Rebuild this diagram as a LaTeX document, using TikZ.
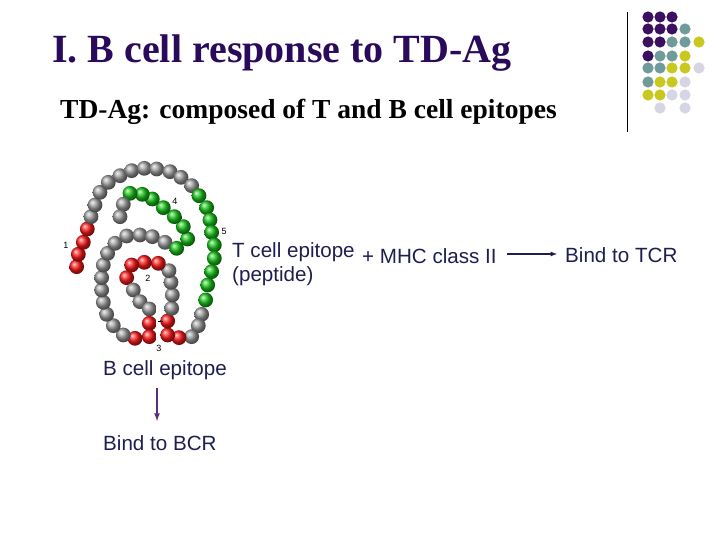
\documentclass[tikz,border=0pt]{standalone}
\usepackage{fontspec}
\setmainfont{Liberation Serif}
\newfontfamily\arial{Liberation Sans}
\definecolor{dP}{HTML}{3C1060}
\definecolor{dT}{HTML}{6F9B9B}
\definecolor{dY}{HTML}{C8C81E}
\definecolor{dL}{HTML}{D5D5E6}
\definecolor{txt}{HTML}{1E1E50}
\definecolor{ttl}{HTML}{2A0A5A}
\definecolor{arr}{HTML}{5A2E7A}
\colorlet{bR}{red!90}
\colorlet{bG}{green!75!black!90}
\colorlet{bY}{gray!75}
\begin{document}
\begin{tikzpicture}[x=1pt,y=-1pt,
  lbl/.style={font=\arial\fontsize{20.6}{22}\selectfont,text=txt,inner sep=0pt,anchor=west},
  num/.style={font=\arial\fontsize{9}{10}\selectfont,inner sep=0pt}]
\useasboundingbox (0,0) rectangle (720,540);
\node[anchor=west,inner sep=0pt,text=ttl,font=\bfseries\fontsize{40}{44}\selectfont] (title) at (52,53) {I. B cell response to TD-Ag};
\node[anchor=west,inner sep=0pt,font=\bfseries\fontsize{27.5}{30}\selectfont] (sub) at (60,112) {TD-Ag: composed of T and B cell epitopes};
\draw[line width=0.8pt] (627,12) -- (627,132);
\foreach \c/\x/\y in {dP/648/17,dP/660/17,dP/672/17,
 dP/648/29,dP/660/29,dP/672/29,dT/685/29,
 dP/648/42,dP/660/42,dT/672/42,dT/685/42,dY/699/42,
 dP/648/56,dT/660/56,dT/672/56,dY/685/56,
 dT/648/68,dT/660/68,dY/672/68,dY/685/68,dL/699/68,
 dT/648/82,dY/660/82,dY/672/82,dL/685/82,
 dY/648/95,dY/660/95,dL/672/95,dL/685/95,
 dL/660/108,dL/685/108}
  \fill[\c] (\x,\y) circle (5.6);
\begin{scope}[shift={(55,155)},x=0.3333pt,y=-0.3333pt]
\foreach \c/\x/\y in {
 bR/65/335,bR/70/298,bR/85/262,bR/97/222,
 bY/108/185,bY/120/150,bY/135/112,bY/160/82,bY/195/62,bY/230/47,bY/268/40,bY/305/42,bY/345/50,bY/378/67,bY/410/92,
 bG/432/122,bG/455/158,bG/465/195,bG/470/232,bG/478/270,bG/478/310,bG/470/350,bG/458/390,bG/452/435,
 bY/440/478,bY/430/512,bY/410/545,
 bR/372/548,bR/338/540,bR/338/498,
 bY/350/460,bY/352/420,bY/348/382,bY/342/347,
 bR/310/325,bR/268/322,bR/230/330,bR/215/368,
 bY/235/405,bY/255/440,bY/283/462,
 bR/283/505,bR/283/545,bR/240/550,
 bY/205/540,bY/175/512,bY/155/478,bY/145/442,bY/140/405,bY/140/368,bY/145/330,bY/158/295,bY/180/265,bY/215/243,bY/255/240,bY/292/245,bY/330/262,
 bG/365/280,bG/398/252,bG/385/215,bG/358/185,bG/325/158,bG/292/132,bG/262/118,bG/225/115,
 bY/205/148,bY/195/185}
  \shade[ball color=\c] (\x,\y) circle (7.4pt);
\draw[line width=1pt] (308,500) -- (325,500);
\end{scope}
\node[num] (n1) at (66,245) {1};
\node[num] (n2) at (148,278) {2};
\node[num] (n3) at (159,348) {3};
\node[num] (n4) at (175,201) {4};
\node[num] (n5) at (224,231) {5};
\node[lbl] (te) at (232,252) {T cell epitope};
\node[lbl] (mhc) at (362,256) {+ MHC class II};
\node[lbl] (pep) at (232,276) {(peptide)};
\node[lbl] (tcr) at (565,255) {Bind to TCR};
\draw[-latex,line width=1.2pt,color=txt] (507,254) coordinate (a1) -- (557,254);
\node[lbl] (be) at (103,370) {B cell epitope};
\node[lbl] (bcr) at (103,443) {Bind to BCR};
\draw[-latex,line width=1.6pt,color=arr] (157,388) -- (157,421);
\end{tikzpicture}
\end{document}
